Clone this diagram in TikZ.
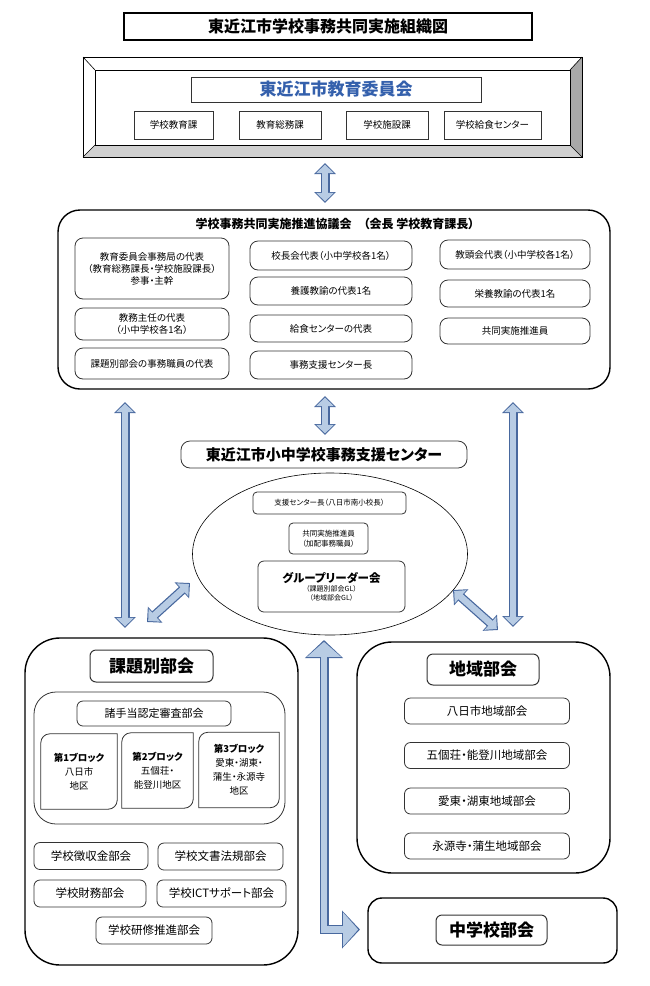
\documentclass[tikz,border=0pt]{standalone}
\usepackage{fontspec}
\setmainfont{Noto Sans CJK JP}[RawFeature=+palt]
\usepackage{tikz}
\usetikzlibrary{arrows.meta,shapes,positioning}
\usepackage{xcolor}
\definecolor{arrfill}{RGB}{184,204,228}
\definecolor{arrline}{RGB}{72,104,158}
\definecolor{boardblue}{RGB}{52,96,172}
\definecolor{bevelgray}{RGB}{168,168,168}
\definecolor{bevellight}{RGB}{208,208,208}
\tikzstyle{box} = [draw=black!80, line width=0.8pt, inner sep=0pt, align=center]
\tikzstyle{rbox} = [box, rounded corners=6pt]
\tikzstyle{titlebox} = [rbox, line width=1pt, font=\bfseries\fontsize{17}{17}\selectfont]
\tikzstyle{frame} = [draw=black, line width=1.4pt, inner sep=0pt]
\tikzstyle{arrowout} = [line width=9pt, draw=arrline, {Triangle[width=21pt,length=11pt]}-{Triangle[width=21pt,length=11pt]}]
\tikzstyle{arrowin} = [line width=6.5pt, draw=arrfill, {Triangle[width=17pt,length=8.5pt]}-{Triangle[width=17pt,length=8.5pt]}, shorten <=1.6pt, shorten >=1.6pt]
\tikzstyle{bigarrowout} = [line width=9pt, draw=arrline, {Triangle[width=37pt,length=18pt]}-{Triangle[width=37pt,length=18pt]}]
\tikzstyle{bigarrowin} = [line width=6.5pt, draw=arrfill, {Triangle[width=33pt,length=15pt]}-{Triangle[width=33pt,length=15pt]}, shorten <=1.8pt, shorten >=1.8pt]
\newcommand{\blockarrow}[3]{\draw[#1] #3; \draw[#2] #3;}

\begin{document}
\begin{tikzpicture}[x=1pt, y=-1pt]
\useasboundingbox (0,0) rectangle (650,986);

% Title
\node[box, draw=black, line width=1.2pt, minimum width=408pt, minimum height=27pt, font=\bfseries\fontsize{16}{16}\selectfont] (title) at (328,26.5) {東近江市学校事務共同実施組織図};

% Board of education (bevelled frame)
\fill[bevelgray] (582,57) -- (582,157) -- (570,145) -- (570,70) -- cycle;
\fill[bevellight] (83,157) -- (582,157) -- (570,145) -- (95,145) -- cycle;
\draw[line width=0.6pt] (83,57) rectangle (582,157);
\draw[line width=0.6pt] (95,70) rectangle (570,145);
\draw[line width=0.6pt] (83,57) -- (95,70) (582,57) -- (570,70) (83,157) -- (95,145) (582,157) -- (570,145);

\node[box, minimum width=290pt, minimum height=25pt, text=boardblue, font=\bfseries\fontsize{17}{17}\selectfont] (board) at (336,89.5) {東近江市教育委員会};
\foreach \n/\x/\w/\t in {1/173.5/79/学校教育課, 2/280/82/教育総務課, 3/387/82/学校施設課, 4/492.5/97/学校給食センター}
  \node[box, minimum width=\w pt, minimum height=28pt, font=\fontsize{9.5}{11}\selectfont] (dept\n) at (\x,125) {\t};

% Council
\node[frame, rounded corners=22pt, minimum width=552pt, minimum height=179pt] (council) at (334,299.5) {};
\node[font=\bfseries\fontsize{12}{12}\selectfont] (counciltitle) at (335,224) {学校事務共同実施推進協議会　（会長 学校教育課長）};

\node[rbox, rounded corners=8pt, minimum width=154pt, minimum height=61pt, font=\fontsize{9.5}{12}\selectfont] (rep1) at (152,268.5) {教育委員会事務局の代表\\（教育総務課長・学校施設課長）\\参事・主幹};
\node[rbox, rounded corners=8pt, minimum width=154pt, minimum height=32pt, font=\fontsize{9.5}{11.5}\selectfont] (rep2) at (152,324) {教務主任の代表\\（小中学校各1名）};
\node[rbox, rounded corners=8pt, minimum width=154pt, minimum height=31pt, font=\fontsize{9.5}{11}\selectfont] (rep3) at (152,363.5) {課題別部会の事務職員の代表};

\foreach \n/\y/\h/\t in {4/255.5/29/校長会代表（小中学校各1名）, 5/291/28/養護教諭の代表1名, 6/328.5/27/給食センターの代表, 7/365/28/事務支援センター長}
  \node[rbox, rounded corners=8pt, minimum width=162pt, minimum height=\h pt, font=\fontsize{9.5}{11}\selectfont] (rep\n) at (331,\y) {\t};

\foreach \n/\y/\h/\t in {8/254.5/29/教頭会代表（小中学校各1名）, 9/293.5/27/栄養教諭の代表1名, 10/331/26/共同実施推進員}
  \node[rbox, rounded corners=8pt, minimum width=150pt, minimum height=\h pt, font=\fontsize{9.5}{11}\selectfont] (rep\n) at (515,\y) {\t};

% Support center
\node[rbox, rounded corners=9pt, minimum width=286pt, minimum height=27pt, font=\bfseries\fontsize{15}{15}\selectfont] (support) at (324,454.5) {東近江市小中学校事務支援センター};
\node[draw, ellipse, line width=0.6pt, minimum width=275pt, minimum height=162pt] (circle) at (330,554) {};
\node[rbox, rounded corners=4pt, minimum width=153pt, minimum height=22pt, font=\fontsize{7.5}{9}\selectfont] (chief) at (329.5,503) {支援センター長（八日市南小校長）};
\node[rbox, rounded corners=4pt, minimum width=79pt, minimum height=31pt, font=\fontsize{7.5}{10}\selectfont] (promoter) at (328.5,538.5) {共同実施推進員\\（加配事務職員）};
\node[rbox, rounded corners=6pt, minimum width=147pt, minimum height=51pt, font=\fontsize{7}{9}\selectfont] (leaders) at (331.5,586.5) {{\bfseries\fontsize{11.5}{13}\selectfont グループリーダー会}\\（課題別部会GL）\\（地域部会GL）};

% Subject committees
\node[frame, rounded corners=35pt, minimum width=273pt, minimum height=327pt] (kadai) at (161.5,801.5) {};
\node[titlebox, minimum width=123pt, minimum height=32pt] (kadaititle) at (151.5,666) {課題別部会};
\node[box, rounded corners=22pt, minimum width=251pt, minimum height=132pt] (teate) at (159.5,758) {};
\node[rbox, minimum width=154pt, minimum height=25pt, font=\fontsize{11}{11}\selectfont] (teatetitle) at (154,713.5) {諸手当認定審査部会};

\foreach \n/\x/\y/\w/\t in {1/79/771.5/76/{\textbf{第1ブロック}\\八日市\\地区}, 2/157.5/770.5/71/{\textbf{第2ブロック}\\五個荘・\\能登川地区}, 3/239/770/80/{\textbf{第3ブロック}\\愛東・湖東・\\蒲生・永源寺\\地区}}
{
  \node[align=center, inner sep=0pt, minimum width=\w pt, minimum height=75pt, font=\fontsize{9.5}{14}\selectfont] (block\n) at (\x,\y) {\t};
  \draw[draw=black!80, line width=0.8pt] (block\n.south west) [rounded corners=9pt] -- (block\n.north west) [sharp corners] -- (block\n.north east) [rounded corners=9pt] -- (block\n.south east) [sharp corners] -- cycle;
}

\foreach \n/\x/\y/\w/\t in {1/91/856/114/学校徴収金部会, 2/220.5/856.5/125/学校文書法規部会, 3/90/893.5/112/学校財務部会, 4/221.5/893.5/129/学校ICTサポート部会, 5/154/930.5/116/学校研修推進部会}
  \node[rbox, minimum width=\w pt, minimum height=27pt, font=\fontsize{11.5}{11.5}\selectfont] (bukai\n) at (\x,\y) {\t};

% Area committees
\node[frame, rounded corners=35pt, minimum width=253pt, minimum height=231pt] (chiiki) at (483.5,757.5) {};
\node[titlebox, minimum width=112pt, minimum height=31pt] (chiikititle) at (483,669.5) {地域部会};
\foreach \n/\y/\t in {1/711/八日市地域部会, 2/755.5/五個荘・能登川地域部会, 3/801/愛東・湖東地域部会, 4/846/永源寺・蒲生地域部会}
  \node[rbox, minimum width=165pt, minimum height=26pt, font=\fontsize{11.5}{11.5}\selectfont] (area\n) at (487,\y) {\t};

% Junior high committee
\node[frame, rounded corners=14pt, minimum width=249pt, minimum height=65pt] (chugaku) at (492.5,930.5) {};
\node[titlebox, minimum width=111pt, minimum height=30pt] (chugakutitle) at (491.5,930) {中学校部会};

% Block arrows
\coordinate (up1) at (325,163);
\coordinate (up2) at (325,203);
\coordinate (mid1) at (325,396);
\coordinate (mid2) at (325,435);
\coordinate (left1) at (125,402);
\coordinate (left2) at (125,628);
\coordinate (right1) at (513,402);
\coordinate (right2) at (513,627);
\coordinate (dl1) at (147,622);
\coordinate (dl2) at (190,583);
\coordinate (dr1) at (453,590);
\coordinate (dr2) at (498,630);
\coordinate (long1) at (324,640);
\coordinate (long2) at (324,929.5);
\coordinate (long3) at (360,929.5);

\blockarrow{arrowout}{arrowin}{(up1) -- (up2)}
\blockarrow{arrowout}{arrowin}{(mid1) -- (mid2)}
\blockarrow{arrowout}{arrowin}{(left1) -- (left2)}
\blockarrow{arrowout}{arrowin}{(right1) -- (right2)}
\blockarrow{arrowout}{arrowin}{(dl1) -- (dl2)}
\blockarrow{arrowout}{arrowin}{(dr1) -- (dr2)}
\blockarrow{bigarrowout}{bigarrowin}{(long1) -- (long2) -- (long3)}
\end{tikzpicture}
\end{document}
